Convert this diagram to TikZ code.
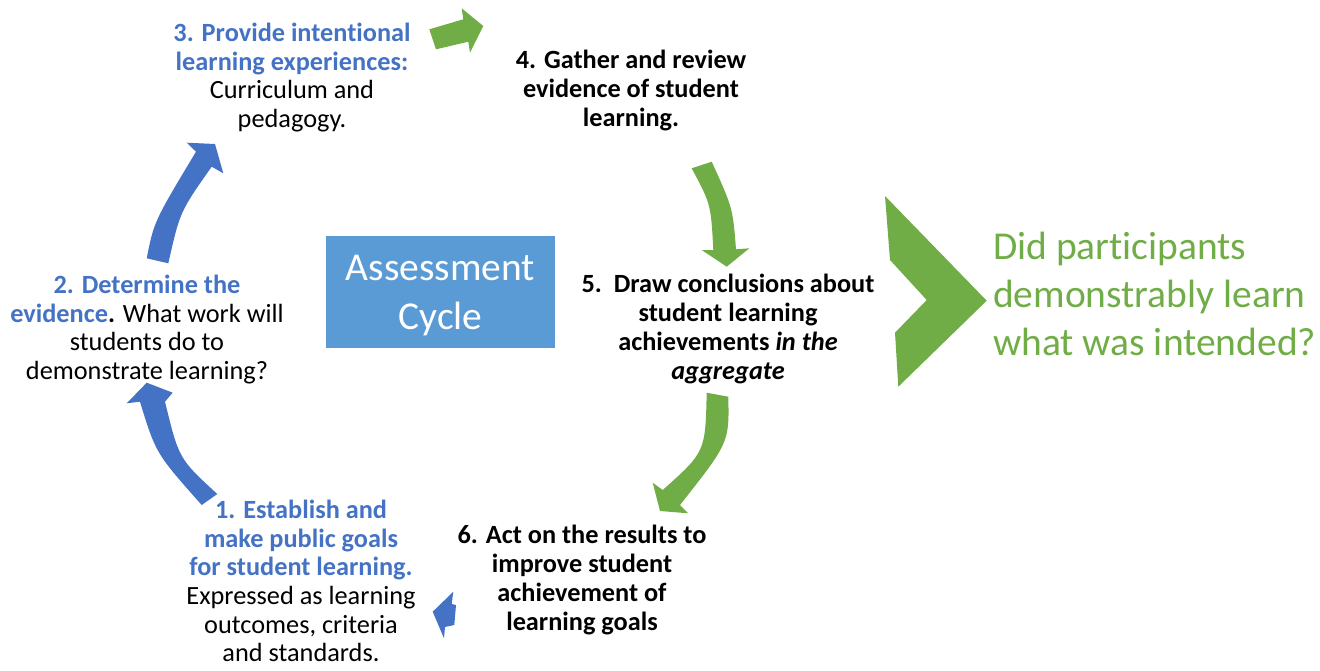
\documentclass[tikz,border=0pt]{standalone}
\usepackage{fontspec}
\setmainfont{Carlito}[Ligatures=NoCommon]
\definecolor{cblue}{HTML}{4472C4}
\definecolor{cbox}{HTML}{5B9BD5}
\definecolor{cgreen}{HTML}{70AD47}
\begin{document}
\begin{tikzpicture}[x=1pt,y=-1pt,
  txt/.style={inner sep=0pt,align=center,font=\fontsize{26.3}{28.7}\selectfont},
  btxt/.style={txt,font=\fontsize{26.3}{28.7}\selectfont\bfseries},
  bluearrow/.style={fill=cblue,draw=none},
  greenarrow/.style={fill=cgreen,draw=none}]
\useasboundingbox (0,0) rectangle (1320,670);
% center box
\node[fill=cbox,minimum width=229pt,minimum height=112pt,inner sep=0pt] (box) at (440.5,292) {};
\node[inner sep=0pt,text=white,align=center,font=\fontsize{39.5}{49}\selectfont] (boxlabel) at (440.5,296) {Assessment\\Cycle};
% texts
\node[txt] (n3) at (292,77.5) {\textcolor{cblue}{\textbf{3. Provide intentional}}\\\textcolor{cblue}{\textbf{learning experiences:}}\\Curriculum and\\pedagogy.};
\node[btxt] (n4) at (631,90.5) {4. Gather and review\\evidence of student\\learning.};
\node[txt] (n2) at (147,329.5) {\textcolor{cblue}{\textbf{2. Determine the}}\\\textcolor{cblue}{\textbf{evidence}}\textbf{.} What work will\\students do to\\demonstrate learning?};
\node[txt] (n1) at (301,581) {\textcolor{cblue}{\textbf{1. Establish and}}\\\textcolor{cblue}{\textbf{make public goals}}\\\textcolor{cblue}{\textbf{for student learning.}}\\Expressed as learning\\outcomes, criteria\\and standards.};
\node[btxt] (n5) at (728,329) {5.\ \ Draw conclusions about\\student learning\\achievements \textit{in the}\\\textit{aggregate}};
\node[btxt] (n6) at (582,580) {6. Act on the results to\\improve student\\achievement of\\learning goals};
\node[inner sep=0pt,align=left,anchor=west,text=cgreen,font=\fontsize{39.5}{48}\selectfont] (q) at (993,294) {Did participants\\demonstrably learn\\what was intended?};
% arrows
% 3 -> 4 (straight green)
\fill[greenarrow] (429.3,29.3) -- (463.3,19.3) -- (461.7,8.3) -- (483.3,26) -- (470,52.7) -- (468.3,41.7) -- (436,49.3) -- cycle;
% 2 -> 3 (blue curved)
\fill[bluearrow] (146.7,258.3) .. controls (154,221.6) .. (196,151.7) -- (186.7,142.7) -- (215,144) -- (223.3,173.3) -- (211.7,166.7) .. controls (180,211.6) .. (168.3,263.3) -- cycle;
% 1 -> 2 (blue curved)
\fill[bluearrow] (201.7,505) .. controls (155.8,453.3) .. (140,401.7) -- (126.7,403.3) -- (146.7,382.7) -- (172.7,392.7) -- (165,401.7) .. controls (178.9,458.8) .. (217.3,494) -- cycle;
% 6 -> 1 (small blue)
\fill[bluearrow] (432.7,611.7) -- (453.3,591.7) -- (451.7,604) -- (456,605) -- (454.3,625) -- (445,627) -- (444,638.3) -- cycle;
% 4 -> 5 (green curved)
\fill[greenarrow] (691.7,168.3) .. controls (710.9,204.25) .. (713.3,250) -- (701.7,250) -- (726.7,266.7) -- (749.3,248.3) -- (736,249.3) .. controls (732.75,207.9) .. (711.7,161.7) -- cycle;
% 5 -> 6 (green curved)
\fill[greenarrow] (706.7,392.7) .. controls (705.3,452) .. (662.7,490) -- (652.7,482.7) -- (660,511) -- (688.3,513.3) -- (680,505) .. controls (729.25,442.55) .. (728.3,396.7) -- cycle;
% chevron
\fill[greenarrow] (885,196) -- (986.7,300.7) -- (898.3,386.7) -- (895,332.7) -- (926.7,300) -- (890,260) -- cycle;
\end{tikzpicture}
\end{document}
